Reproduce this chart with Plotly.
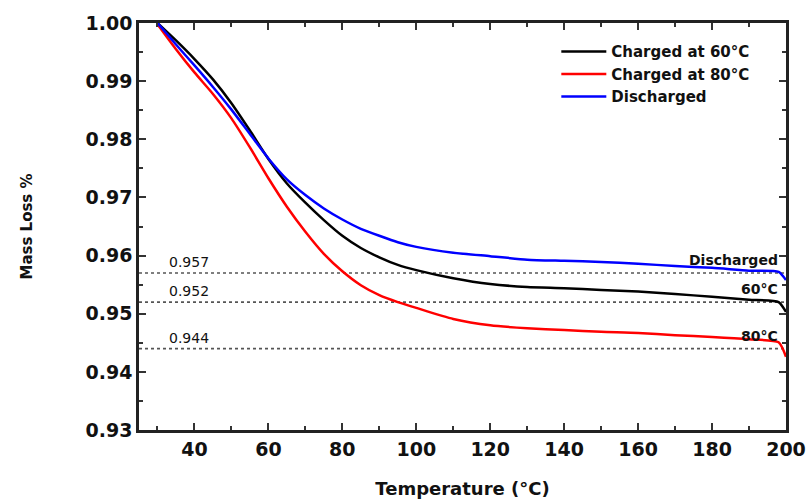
import plotly.graph_objects as go

# Temperature grid (°C)
temperature = [30, 35, 40, 45, 50, 55, 60, 65, 70, 75, 80, 85, 90, 95, 100,
               110, 120, 130, 140, 150, 160, 170, 180, 190, 198, 200]

# Normalised mass for each sample
charged_60 = [1.000, 0.9970, 0.9938, 0.9903, 0.9862, 0.9815, 0.9766, 0.9724,
              0.9691, 0.9661, 0.9634, 0.9613, 0.9597, 0.9584, 0.9575,
              0.9561, 0.9551, 0.9546, 0.9544, 0.9541, 0.9538, 0.9534,
              0.9529, 0.9524, 0.9520, 0.9503]
charged_80 = [0.9998, 0.9955, 0.9915, 0.9878, 0.9836, 0.9786, 0.9733, 0.9684,
              0.9641, 0.9603, 0.9573, 0.9549, 0.9532, 0.9520, 0.9510,
              0.9491, 0.9480, 0.9475, 0.9472, 0.9469, 0.9467, 0.9463,
              0.9460, 0.9456, 0.9451, 0.9426]
discharged = [1.000, 0.9963, 0.9927, 0.9890, 0.9851, 0.9809, 0.9767, 0.9731,
              0.9704, 0.9681, 0.9662, 0.9646, 0.9634, 0.9623, 0.9615,
              0.9605, 0.9599, 0.9593, 0.9591, 0.9589, 0.9586, 0.9582,
              0.9579, 0.9574, 0.9572, 0.9558]

series_names = ["Charged at 60°C", "Charged at 80°C", "Discharged"]
series_colors = ["#000000", "#ff0000", "#0000ff"]

# Plateau reference levels and their end labels
ref_levels = [0.957, 0.952, 0.944]
ref_labels = ["Discharged", "60°C", "80°C"]

x_ticks = [40, 60, 80, 100, 120, 140, 160, 180, 200]
y_ticks = [0.93, 0.94, 0.95, 0.96, 0.97, 0.98, 0.99, 1.00]

FONT = "DejaVu Sans"

fig = go.Figure()

for name, ys, col in zip(series_names, [charged_60, charged_80, discharged], series_colors):
    fig.add_trace(go.Scatter(
        x=temperature, y=ys, mode="lines", name=name,
        line=dict(color=col, width=2.5, shape="spline", smoothing=0.6),
    ))

for lvl in ref_levels:
    fig.add_shape(type="line", xref="paper", x0=0, x1=1, yref="y", y0=lvl, y1=lvl,
                  line=dict(color="#555555", width=1.6, dash="dot"), layer="below")
    fig.add_annotation(x=32.5, y=lvl, xref="x", yref="y", text=f"{lvl:.3f}",
                       showarrow=False, xanchor="left", yanchor="bottom", yshift=1,
                       font=dict(family=FONT, size=14, color="#111111"))

for lvl, lab in zip(ref_levels, ref_labels):
    fig.add_annotation(x=198.5, y=lvl, xref="x", yref="y", text=lab,
                       showarrow=False, xanchor="right", yanchor="bottom", yshift=3,
                       font=dict(family=FONT, size=14, color="#111111", weight="bold"))

axis_common = dict(
    showline=True, linecolor="#222222", linewidth=2.5, mirror="allticks",
    ticks="inside", ticklen=7, tickwidth=2, tickcolor="#333333",
    showgrid=False, zeroline=False, automargin=False,
    tickfont=dict(family=FONT, size=19, color="#111111", weight="bold"),
)

fig.update_xaxes(
    range=[25, 200], tickvals=x_ticks,
    minor=dict(ticks="inside", ticklen=4, dtick=10, tick0=0, tickcolor="#333333"),
    title=dict(text="Temperature (°C)", standoff=24,
               font=dict(family=FONT, size=18, color="#111111", weight="bold")),
    **axis_common,
)
fig.update_yaxes(
    range=[0.93, 1.00], tickvals=y_ticks, tickformat=".2f",
    minor=dict(ticks="inside", ticklen=4, dtick=0.005, tick0=0, tickcolor="#333333"),
    title=dict(text="Mass Loss %", standoff=50,
               font=dict(family=FONT, size=15, color="#111111", weight="bold")),
    **axis_common,
)

fig.update_layout(
    width=808, height=500,
    margin=dict(l=139, r=22, t=23, b=70),
    paper_bgcolor="white", plot_bgcolor="white",
    showlegend=True,
    legend=dict(x=0.645, y=0.97, xanchor="left", yanchor="top",
                bgcolor="rgba(0,0,0,0)", borderwidth=0, tracegroupgap=0,
                itemwidth=45,
                font=dict(family=FONT, size=15, color="#111111", weight="bold")),
)

fig.write_html("out.html")
